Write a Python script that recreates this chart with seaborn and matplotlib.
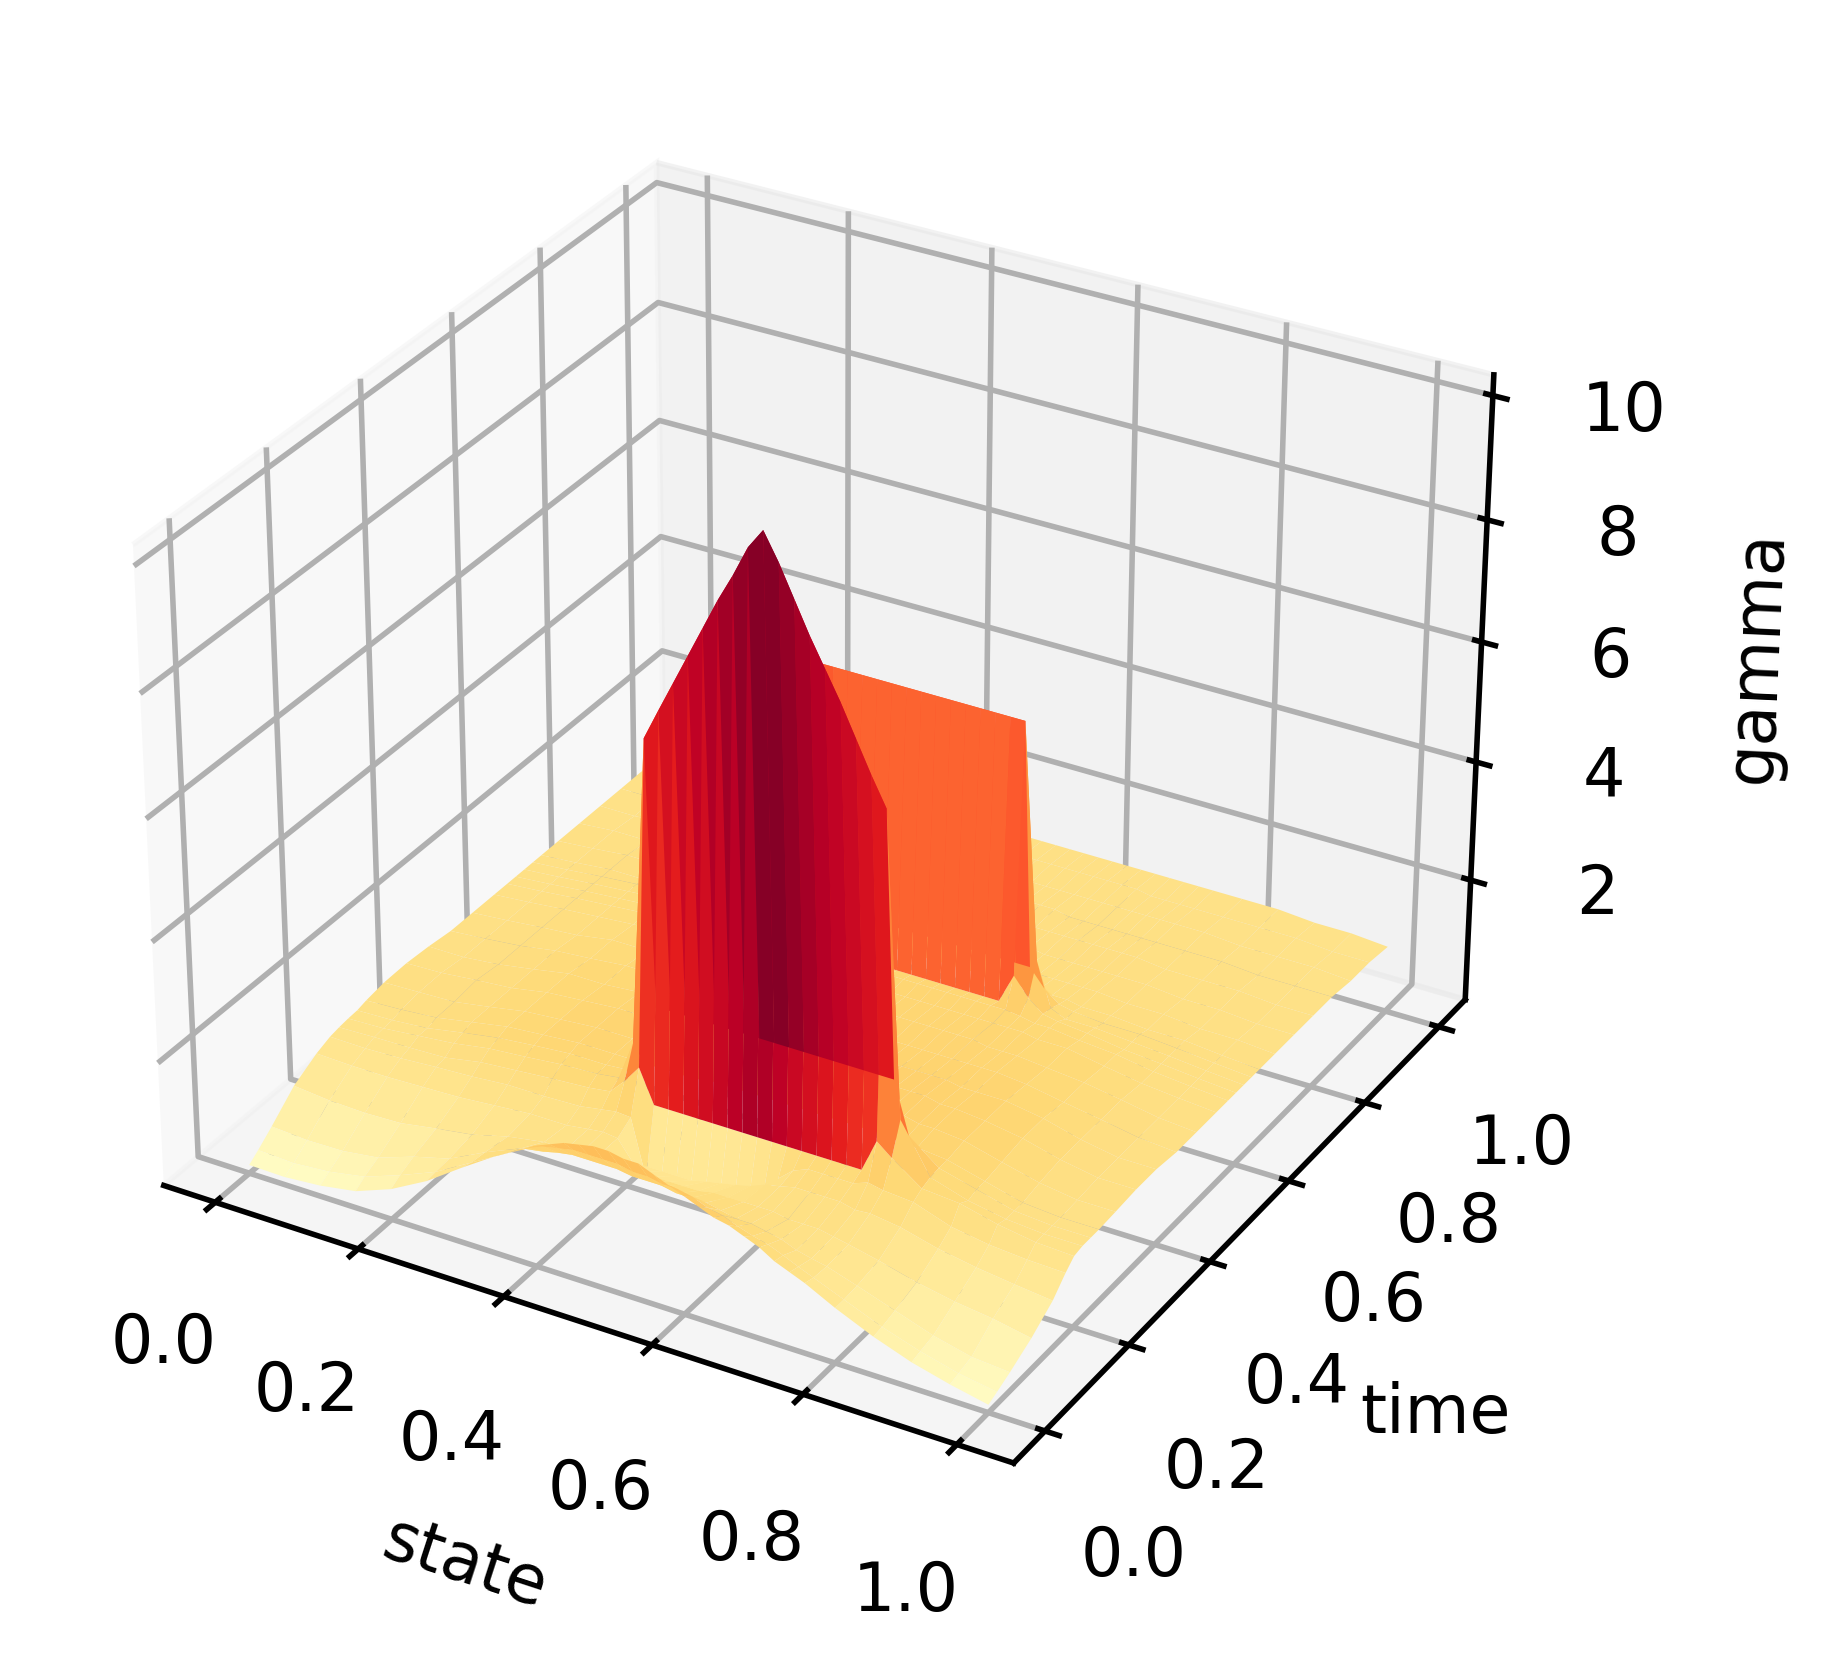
import numpy as np
import matplotlib
matplotlib.use('Agg')
import matplotlib.pyplot as plt
from matplotlib.colors import PowerNorm
import seaborn as sns

# Grid of the surface (finer where the two walls are)
state = [0, .05, .1, .15, .2, .25, .3, .35, .38, .40, .42, .44, .46, .48, .50, .52, .54,
         .56, .58, .60, .62, .64, .66, .68, .70, .72, .74, .76, .80, .85, .9, .95, 1]
time = [0, .02, .05, .1, .15, .18, .20, .22, .24, .26, .3, .35, .4, .45, .5, .55, .58,
        .60, .62, .64, .66, .7, .75, .8, .85, .9, .95, 1]

# gamma values, one row per time value
gamma = [
 [.08,.07,.12,.22,.45,.78,1.2,1.6,1.8,1.95,2.05,2.15,2.2,2.25,2.25,2.2,2.2,2.1,2.0,1.9,1.8,1.7,1.65,1.55,1.45,1.3,1.2,1.1,.85,.58,.36,.2,.07],
 [.20,.17,.22,.33,.55,.8,1.15,1.5,1.7,1.8,1.85,1.9,1.9,1.9,1.9,1.85,1.85,1.8,1.8,1.75,1.65,1.6,1.5,1.42,1.36,1.26,1.15,1.05,.85,.6,.4,.24,.14],
 [.40,.36,.37,.45,.66,.82,1.12,1.38,1.44,1.5,1.54,1.54,1.54,1.54,1.5,1.5,1.5,1.45,1.45,1.45,1.4,1.34,1.34,1.29,1.24,1.14,1.08,1.03,.87,.66,.45,.3,.25],
 [.76,.7,.68,.7,.8,.89,1.05,1.15,1.15,1.15,1.15,1.15,1.15,1.15,1.15,1.15,1.15,1.15,1.2,1.2,1.2,1.2,1.2,1.15,1.15,1.15,1.1,1.05,.94,.78,.66,.58,.46],
 [.98,.96,.96,.98,1.0,1.05,1.1,1.1,1.15,1.18,1.15,.83,.83,.83,.83,.83,.89,.94,.99,1.05,1.15,1.2,1.26,1.26,1.26,1.26,1.2,1.22,1.15,.99,.88,.8,.73],
 [1.07,1.06,1.08,1.12,1.15,1.2,1.2,1.22,1.28,1.32,1.3,.36,.31,.31,.31,.31,.36,.41,.52,.73,1.05,1.26,1.36,1.36,1.36,1.36,1.45,1.4,1.36,1.15,1.05,1.0,.98],
 [1.1,1.12,1.13,1.15,1.26,1.31,1.36,1.4,1.45,1.7,2.0,1.45,1.45,1.45,1.45,1.45,1.45,1.45,1.45,1.45,1.45,1.45,1.45,1.45,1.45,1.45,2.0,1.8,1.45,1.4,1.25,1.15,1.12],
 [1.12,1.14,1.2,1.26,1.36,1.41,1.47,1.5,1.55,2.2,7.24,7.75,8.25,8.75,9.25,9.75,10.2,10.7,11.03,10.6,10.1,9.6,9.15,8.7,8.2,7.7,7.24,2.3,1.5,1.31,1.2,1.15,1.15],
 [1.13,1.15,1.2,1.31,1.41,1.47,1.52,1.52,1.55,1.8,2.75,2.75,2.75,2.75,2.75,2.75,2.75,2.75,2.75,2.75,2.75,2.75,2.75,2.75,2.75,2.75,2.75,1.9,1.52,1.36,1.2,1.15,1.15],
 [1.17,1.2,1.25,1.36,1.47,1.52,1.57,1.57,1.57,1.57,1.57,1.57,1.57,1.62,1.62,1.62,1.62,1.62,1.62,1.62,1.62,1.62,1.62,1.62,1.62,1.62,1.57,1.57,1.52,1.36,1.2,1.15,1.15],
 [1.22,1.24,1.26,1.36,1.47,1.52,1.57,1.57,1.57,1.57,1.57,1.57,1.57,1.62,1.62,1.62,1.62,1.62,1.62,1.68,1.68,1.68,1.68,1.68,1.68,1.68,1.62,1.62,1.57,1.41,1.26,1.17,1.17],
 [1.23,1.25,1.31,1.36,1.47,1.52,1.57,1.57,1.57,1.57,1.57,1.57,1.57,1.62,1.62,1.62,1.62,1.62,1.62,1.62,1.62,1.62,1.68,1.68,1.68,1.68,1.62,1.62,1.57,1.47,1.31,1.2,1.2],
 [1.2,1.2,1.26,1.36,1.47,1.47,1.52,1.52,1.57,1.57,1.57,1.57,1.57,1.57,1.57,1.57,1.57,1.57,1.62,1.62,1.62,1.62,1.62,1.62,1.62,1.62,1.57,1.57,1.57,1.47,1.31,1.2,1.2],
 [1.15,1.2,1.26,1.36,1.41,1.47,1.47,1.52,1.52,1.52,1.52,1.52,1.57,1.57,1.57,1.57,1.57,1.57,1.57,1.57,1.57,1.57,1.57,1.57,1.57,1.57,1.57,1.57,1.52,1.41,1.31,1.2,1.15],
 [1.15,1.2,1.26,1.31,1.41,1.41,1.47,1.47,1.47,1.52,1.52,1.52,1.52,1.52,1.52,1.52,1.52,1.57,1.57,1.57,1.57,1.57,1.57,1.57,1.57,1.52,1.52,1.52,1.47,1.41,1.31,1.2,1.15],
 [1.15,1.2,1.26,1.31,1.36,1.41,1.47,1.47,1.47,1.47,1.47,1.52,1.52,1.52,1.52,1.52,1.52,1.52,1.52,1.52,1.52,1.52,1.52,1.52,1.52,1.52,1.52,1.47,1.47,1.36,1.26,1.2,1.15],
 [1.15,1.2,1.26,1.31,1.36,1.41,1.41,1.47,1.47,1.5,1.52,1.55,1.55,1.55,1.55,1.55,1.55,1.55,1.55,1.55,1.55,1.55,1.55,1.55,1.55,1.52,1.47,1.47,1.41,1.36,1.26,1.2,1.15],
 [1.15,1.2,1.26,1.31,1.36,1.36,1.41,1.42,1.45,1.7,2.0,1.5,1.5,1.5,1.5,1.5,1.5,1.5,1.5,1.5,1.5,1.5,1.5,1.5,2.0,1.7,1.5,1.45,1.4,1.31,1.26,1.2,1.15],
 [1.15,1.2,1.26,1.31,1.36,1.36,1.36,1.41,1.47,2.2,6.1,6.1,6.1,6.1,6.1,6.1,6.1,6.1,6.1,6.1,6.1,6.1,6.1,6.1,6.1,2.2,1.47,1.36,1.36,1.31,1.26,1.2,1.15],
 [1.15,1.2,1.26,1.31,1.36,1.36,1.36,1.36,1.41,1.6,1.89,1.89,1.89,1.89,1.89,1.89,1.89,1.89,1.89,1.89,1.89,1.89,1.89,1.89,1.89,1.6,1.41,1.36,1.31,1.31,1.26,1.2,1.15],
 [1.15,1.2,1.26,1.26,1.31,1.31,1.36,1.36,1.36,1.36,1.36,1.36,1.36,1.36,1.36,1.36,1.36,1.36,1.36,1.36,1.36,1.36,1.36,1.36,1.36,1.36,1.36,1.31,1.31,1.26,1.26,1.2,1.15],
 [1.15,1.2,1.26,1.26,1.31,1.31,1.31,1.31,1.31,1.31,1.31,1.31,1.31,1.31,1.31,1.31,1.31,1.31,1.31,1.31,1.31,1.31,1.31,1.31,1.31,1.31,1.31,1.31,1.26,1.26,1.2,1.2,1.15],
 [1.15,1.2,1.2,1.26,1.26,1.26,1.31,1.31,1.31,1.31,1.31,1.31,1.31,1.31,1.31,1.31,1.31,1.31,1.31,1.31,1.31,1.31,1.26,1.26,1.26,1.26,1.26,1.26,1.26,1.2,1.2,1.15,1.15],
 [1.15,1.15,1.2,1.2,1.26,1.26,1.26,1.26,1.26,1.26,1.26,1.26,1.26,1.26,1.26,1.26,1.26,1.26,1.26,1.26,1.26,1.26,1.26,1.26,1.26,1.26,1.26,1.26,1.2,1.2,1.2,1.15,1.15],
 [1.15,1.15,1.2,1.2,1.2,1.2,1.26,1.26,1.26,1.26,1.26,1.26,1.26,1.26,1.26,1.26,1.26,1.26,1.26,1.26,1.26,1.2,1.2,1.2,1.2,1.2,1.2,1.2,1.2,1.2,1.15,1.15,1.15],
 [1.15,1.15,1.15,1.2,1.2,1.2,1.2,1.2,1.2,1.2,1.2,1.2,1.2,1.2,1.2,1.2,1.2,1.2,1.2,1.2,1.2,1.2,1.2,1.2,1.2,1.2,1.2,1.2,1.2,1.15,1.15,1.15,1.1],
 [1.15,1.15,1.15,1.15,1.15,1.15,1.2,1.2,1.2,1.2,1.2,1.2,1.2,1.2,1.2,1.2,1.2,1.2,1.2,1.2,1.2,1.2,1.2,1.2,1.15,1.15,1.15,1.15,1.15,1.15,1.15,1.1,1.1],
 [1.15,1.15,1.15,1.15,1.15,1.15,1.15,1.15,1.15,1.15,1.15,1.15,1.15,1.15,1.15,1.15,1.15,1.15,1.15,1.15,1.15,1.15,1.15,1.15,1.15,1.15,1.15,1.15,1.15,1.15,1.1,1.1,1.05],
]

plt.rcParams['font.size'] = 12
plt.rcParams['axes.linewidth'] = 1.0
plt.rcParams['grid.linewidth'] = 1.0
plt.rcParams['xtick.major.width'] = 1.0
plt.rcParams['ytick.major.width'] = 1.0

X, Y = np.meshgrid(state, time)
Z = np.array(gamma)

fig = plt.figure(figsize=(1846 / 400, 1678 / 400), dpi=400)
ax = fig.add_axes([0.0268, 0.0712, 0.8197, 0.9017], projection='3d')

# Plot the surface
cmap = sns.color_palette('YlOrRd', as_cmap=True)
ax.plot_surface(X, Y, Z, cmap=cmap, rcount=50, ccount=50, norm=PowerNorm(gamma=0.9, vmin=0, vmax=6.9),
                linewidth=0, antialiased=True)

ax.set_zlim(-0.06, 10.33)
ax.set_xticks([0, .2, .4, .6, .8, 1])
ax.set_yticks([0, .2, .4, .6, .8, 1])
ax.set_zticks([2, 4, 6, 8, 10])
ax.tick_params(axis='both', pad=6.3)
ax.set_xlabel('state', labelpad=10)
ax.set_ylabel('time', labelpad=10)
ax.set_zlabel('gamma', labelpad=10)

fig.savefig('out.png', dpi=400)
